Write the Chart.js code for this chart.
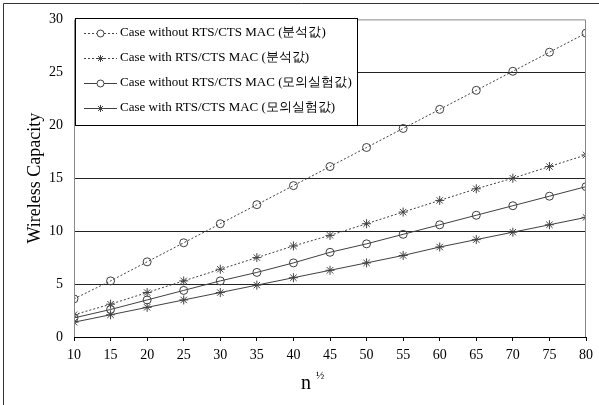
<!DOCTYPE html>
<html><head><meta charset="utf-8">
<script src="https://cdn.jsdelivr.net/npm/chart.js@4.4.0/dist/chart.umd.min.js"></script>
<style>html,body{margin:0;padding:0;background:#fff}#wrap{width:599px;height:405px}</style>
</head><body><div id="wrap"><canvas id="c" width="599" height="405"></canvas></div>
<script>
const xValues = [10,15,20,25,30,35,40,45,50,55,60,65,70,75,80];
const anaWithout = [3.6,5.3,7.1,8.9,10.7,12.5,14.3,16.1,17.9,19.7,21.5,23.3,25.1,26.9,28.7];
const anaWith = [2.1,3.1,4.2,5.3,6.4,7.5,8.6,9.6,10.7,11.8,12.9,14.0,15.0,16.1,17.2];
const simWithout = [1.8,2.6,3.5,4.4,5.3,6.1,7.0,8.0,8.8,9.7,10.6,11.5,12.4,13.3,14.2];
const simWith = [1.4,2.1,2.8,3.5,4.2,4.9,5.6,6.3,7.0,7.7,8.5,9.2,9.9,10.6,11.3];
const seriesLabels = ['Case without RTS/CTS MAC (분석값)','Case with RTS/CTS MAC (분석값)','Case without RTS/CTS MAC (모의실험값)','Case with RTS/CTS MAC (모의실험값)'];
const yTitle = 'Wireless Capacity';
const xTitleBase = 'n';
const xTitleSup = '½';

const col = '#404040';
const FONT = '"Liberation Serif","Times New Roman",serif';
function mk(label, data, style, dashed){
  return {label, data: xValues.map((x,i)=>({x, y:data[i]})), borderColor: col, backgroundColor:'rgba(0,0,0,0)',
    borderWidth:1, borderDash: dashed?[2,2]:[], pointStyle: style, pointRadius: style==='circle'?4:4.5,
    pointBorderColor: col, pointBorderWidth:1, pointBackgroundColor:'rgba(0,0,0,0)', tension:0};
}
const datasets = [
  mk(seriesLabels[0], anaWithout, 'circle', true),
  mk(seriesLabels[1], anaWith, 'star', true),
  mk(seriesLabels[2], simWithout, 'circle', false),
  mk(seriesLabels[3], simWith, 'star', false)
];

const decor = {
  id:'decor',
  beforeDraw(chart){
    const ctx = chart.ctx;
    ctx.save();
    ctx.fillStyle='#fff'; ctx.fillRect(0,0,chart.width,chart.height);
    ctx.strokeStyle='#333'; ctx.lineWidth=1;
    ctx.beginPath(); ctx.moveTo(3.5,405); ctx.lineTo(3.5,3.5); ctx.lineTo(599,3.5); ctx.stroke();
    ctx.restore();
  },
  afterDraw(chart){
    const ctx = chart.ctx, a = chart.chartArea;
    ctx.save();
    ctx.strokeStyle='#888'; ctx.lineWidth=1;
    ctx.beginPath(); ctx.moveTo(a.left+0.5,a.bottom); ctx.lineTo(a.left+0.5,a.top+0.5); ctx.lineTo(a.right-0.5,a.top+0.5); ctx.lineTo(a.right-0.5,a.bottom); ctx.stroke();
    ctx.strokeStyle='#000';
    ctx.beginPath(); ctx.moveTo(a.left,a.bottom+0.5); ctx.lineTo(a.right,a.bottom+0.5); ctx.stroke();
    const bx=75.5, by=18.5, bw=282, bh=107;
    ctx.fillStyle='#fff'; ctx.fillRect(bx,by,bw,bh);
    ctx.strokeStyle='#000'; ctx.strokeRect(bx,by,bw,bh);
    chart.data.datasets.forEach((ds,i)=>{
      const yy = 33 + i*25;
      ctx.strokeStyle=col; ctx.lineWidth=1;
      ctx.setLineDash(ds.borderDash);
      ctx.beginPath(); ctx.moveTo(84,yy+0.5); ctx.lineTo(117,yy+0.5); ctx.stroke();
      ctx.setLineDash([]);
      ctx.fillStyle='#fff';
      Chart.helpers.drawPoint(ctx,{pointStyle:ds.pointStyle, radius:3.5, borderWidth:1}, 100.5, yy+0.5);
      ctx.fillStyle='#000'; ctx.font='13px '+FONT; ctx.textBaseline='middle'; ctx.textAlign='left';
      ctx.fillText(ds.label, 120, yy);
    });
    ctx.fillStyle='#000'; ctx.textBaseline='alphabetic';
    ctx.font='20px '+FONT; ctx.textAlign='left';
    ctx.fillText(xTitleBase, 301, 389);
    ctx.font='11px '+FONT;
    ctx.fillText(xTitleSup, 316, 379);
    ctx.restore();
  }
};

new Chart(document.getElementById('c'), {
  type:'line',
  data:{datasets},
  options:{
    responsive:false, animation:false, devicePixelRatio:1,
    layout:{padding:{left:24,right:13,top:19,bottom:0}},
    plugins:{legend:{display:false}, tooltip:{enabled:false}},
    scales:{
      x:{type:'linear', min:10, max:80,
        ticks:{stepSize:5, color:'#000', font:{family:FONT,size:14}, padding:6, maxRotation:0},
        grid:{display:true, drawOnChartArea:false, drawTicks:true, tickLength:4, color:'#000'},
        border:{display:false},
        afterFit(s){ s.height = 68; }
      },
      y:{min:0, max:30,
        ticks:{stepSize:5, color:'#000', font:{family:FONT,size:14}, padding:11},
        grid:{display:true, drawTicks:false, color:(c)=> (c.tick.value===0||c.tick.value===30)?'rgba(0,0,0,0)':'#222', lineWidth:1},
        border:{display:false},
        title:{display:true, text:yTitle, color:'#000', font:{family:FONT,size:18}, padding:{top:0,bottom:6}},
        afterFit(s){ s.width = 50; }
      }
    }
  },
  plugins:[decor]
});
</script></body></html>
